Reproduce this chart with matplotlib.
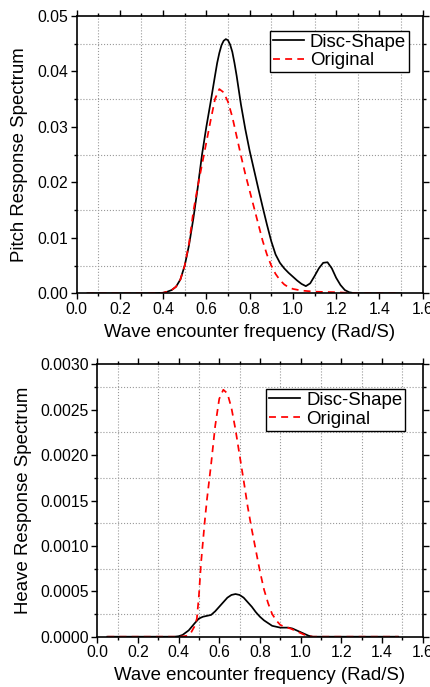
import matplotlib
matplotlib.use("Agg")
import matplotlib.pyplot as plt
from matplotlib.ticker import MultipleLocator, FormatStrFormatter

plt.rcParams['font.family'] = ['Liberation Sans', 'DejaVu Sans']

# Pitch response spectrum (top panel)
pitch_x_disc = [0.05, 0.30, 0.35, 0.40, 0.42, 0.44, 0.46, 0.48, 0.50, 0.52, 0.54, 0.56,
                0.58, 0.60, 0.62, 0.64, 0.65, 0.66, 0.67, 0.68, 0.69, 0.70, 0.71, 0.72,
                0.73, 0.74, 0.75, 0.76, 0.78, 0.80, 0.82, 0.84, 0.86, 0.88, 0.90, 0.92,
                0.94, 0.96, 0.98, 1.00, 1.02, 1.04, 1.06, 1.08, 1.10, 1.12, 1.14, 1.16,
                1.18, 1.20, 1.22, 1.24, 1.26, 1.28, 1.30, 1.50]
pitch_disc = [0.0, 0.0, 0.00002, 0.0001, 0.0003, 0.0006, 0.0012, 0.0025, 0.0050, 0.0087,
              0.0135, 0.0190, 0.0250, 0.0300, 0.0345, 0.0392, 0.0415, 0.0433, 0.0447,
              0.0455, 0.0458, 0.0456, 0.0448, 0.0435, 0.0415, 0.0392, 0.0366, 0.0340,
              0.0296, 0.0257, 0.0223, 0.0189, 0.0156, 0.0124, 0.0094, 0.0070, 0.0055,
              0.0045, 0.0037, 0.0030, 0.0023, 0.0017, 0.0013, 0.0018, 0.0031, 0.0045,
              0.0055, 0.0056, 0.0045, 0.0028, 0.0015, 0.0006, 0.0002, 0.00005, 0.0, 0.0]

pitch_x_orig = [0.05, 0.30, 0.35, 0.40, 0.42, 0.44, 0.46, 0.48, 0.50, 0.52, 0.54, 0.56,
                0.58, 0.60, 0.62, 0.64, 0.66, 0.68, 0.70, 0.72, 0.74, 0.76, 0.78, 0.80,
                0.82, 0.84, 0.86, 0.88, 0.90, 0.92, 0.94, 0.96, 0.98, 1.00, 1.04, 1.10,
                1.20, 1.25, 1.30, 1.50]
pitch_orig = [0.0, 0.0, 0.00002, 0.0001, 0.0003, 0.0006, 0.0012, 0.0025, 0.0050, 0.0090,
              0.0148, 0.0192, 0.0232, 0.0272, 0.0312, 0.0350, 0.0368, 0.0362, 0.0345,
              0.0318, 0.0283, 0.0248, 0.0215, 0.0185, 0.0155, 0.0125, 0.0095, 0.0070,
              0.0050, 0.0035, 0.0024, 0.0016, 0.0011, 0.0008, 0.0005, 0.0003, 0.0002,
              0.0001, 0.0, 0.0]

# Heave response spectrum (bottom panel)
heave_x_disc = [0.05, 0.38, 0.40, 0.42, 0.45, 0.48, 0.50, 0.52, 0.54, 0.56, 0.58, 0.60,
                0.62, 0.64, 0.66, 0.68, 0.70, 0.72, 0.74, 0.76, 0.78, 0.80, 0.82, 0.84,
                0.86, 0.88, 0.90, 0.92, 0.94, 0.96, 0.98, 1.00, 1.02, 1.04, 1.06, 1.48]
heave_disc = [0.0, 0.0, 0.000005, 0.00002, 0.00007, 0.00015, 0.0002, 0.00022, 0.00023,
              0.00024, 0.00028, 0.00033, 0.00038, 0.00043, 0.00046, 0.00047, 0.00046,
              0.00043, 0.00038, 0.00033, 0.00027, 0.00022, 0.00018, 0.00015, 0.00012,
              0.00011, 0.0001, 0.0001, 0.0001, 0.00009, 0.00007, 0.00005, 0.00003,
              0.00001, 0.0, 0.0]

heave_x_orig = [0.05, 0.40, 0.42, 0.44, 0.46, 0.48, 0.49, 0.50, 0.51, 0.52, 0.53, 0.54,
                0.56, 0.58, 0.60, 0.62, 0.64, 0.66, 0.68, 0.70, 0.72, 0.74, 0.76, 0.78,
                0.80, 0.82, 0.84, 0.86, 0.88, 0.90, 0.92, 0.95, 0.98, 1.00, 1.03, 1.06, 1.48]
heave_orig = [0.0, 0.0, 0.000003, 0.00001, 0.00004, 0.00012, 0.0002, 0.00045, 0.0008,
              0.00105, 0.00130, 0.00152, 0.00190, 0.00232, 0.00262, 0.00272, 0.00268,
              0.00252, 0.00228, 0.00200, 0.00172, 0.00143, 0.00118, 0.00095, 0.00072,
              0.00052, 0.00037, 0.00025, 0.00018, 0.00013, 0.00011, 0.00009, 0.00006,
              0.00004, 0.00001, 0.0, 0.0]

x_label = 'Wave encounter frequency (Rad/S)'
legend_labels = ['Disc-Shape', 'Original']


def style_axes(ax, ymax, ymajor, yfmt):
    ax.set_xlim(0.0, 1.6)
    ax.set_ylim(0.0, ymax)
    ax.xaxis.set_major_locator(MultipleLocator(0.2))
    ax.xaxis.set_minor_locator(MultipleLocator(0.1))
    ax.yaxis.set_major_locator(MultipleLocator(ymajor))
    ax.yaxis.set_minor_locator(MultipleLocator(ymajor / 2))
    ax.xaxis.set_major_formatter(FormatStrFormatter('%.1f'))
    ax.yaxis.set_major_formatter(FormatStrFormatter(yfmt))
    ax.tick_params(which='both', direction='out', top=True, right=True,
                   labelsize=11.3, width=1.0, pad=2)
    ax.tick_params(which='major', length=4)
    ax.tick_params(which='minor', length=2.5)
    ax.grid(which='minor', color='#999999', linestyle=':', linewidth=0.8)
    ax.grid(which='major', visible=False)
    for s in ax.spines.values():
        s.set_linewidth(1.2)
    ax.set_xlabel(x_label, fontsize=13.4, labelpad=5)


def add_legend(ax, anchor):
    leg = ax.legend(loc='upper right', bbox_to_anchor=anchor, fontsize=13.4,
                    frameon=True, fancybox=False, edgecolor='black', framealpha=1,
                    handlelength=1.7, handletextpad=0.3, borderpad=0.15,
                    labelspacing=0.1, borderaxespad=0.0)
    leg.get_frame().set_linewidth(1.0)


fig = plt.figure(figsize=(4.3, 6.87), dpi=100)

ax1 = fig.add_axes([0.178, 0.573, 0.805, 0.404])
ax1.plot(pitch_x_disc, pitch_disc, color='black', lw=1.25, label=legend_labels[0])
ax1.plot(pitch_x_orig, pitch_orig, color='red', lw=1.25, ls=(0, (4, 3)), label=legend_labels[1])
style_axes(ax1, 0.05, 0.01, '%.2f')
ax1.set_ylabel('Pitch Response Spectrum', fontsize=13.4, labelpad=7)
add_legend(ax1, (0.960, 0.946))

ax2 = fig.add_axes([0.226, 0.0732, 0.757, 0.3965])
ax2.plot(heave_x_disc, heave_disc, color='black', lw=1.25, label=legend_labels[0])
ax2.plot(heave_x_orig, heave_orig, color='red', lw=1.25, ls=(0, (4, 3)), label=legend_labels[1])
style_axes(ax2, 0.003, 0.0005, '%.4f')
ax2.set_ylabel('Heave Response Spectrum', fontsize=13.4, labelpad=6)
add_legend(ax2, (0.946, 0.909))

fig.savefig('out.png', dpi=100)
